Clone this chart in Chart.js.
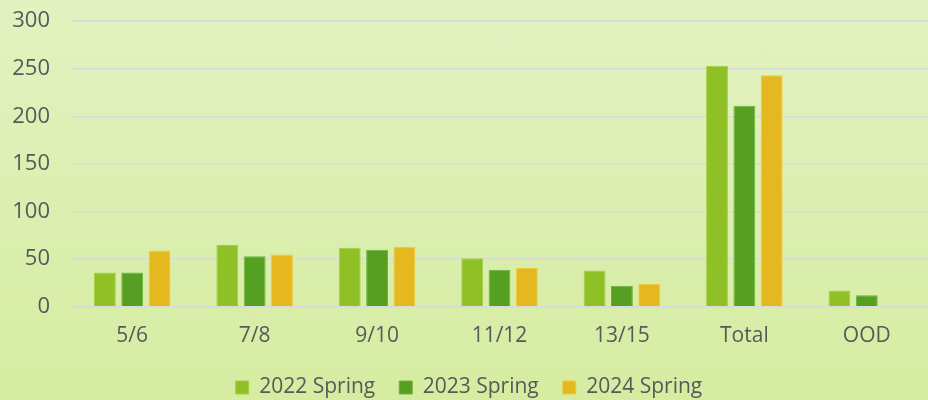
<!DOCTYPE html>
<html>
<head>
<meta charset="utf-8">
<script src="https://cdn.jsdelivr.net/npm/chart.js@4/dist/chart.umd.min.js"></script>
<style>
  html, body { margin: 0; padding: 0; }
  body { width: 928px; height: 400px; background: linear-gradient(to bottom, #e2f2c0 0%, #d6eca1 100%); }
  #wrap { width: 928px; height: 400px; position: relative; }
</style>
</head>
<body>
<div id="wrap"><canvas id="c" width="928" height="400"></canvas></div>
<script>
const categories = ["5/6", "7/8", "9/10", "11/12", "13/15", "Total", "OOD"];
const seriesNames = ["2022 Spring", "2023 Spring", "2024 Spring"];
const spring2022 = [36, 65, 62, 51, 38, 253, 17];
const spring2023 = [36, 53, 60, 39, 22, 211, 12];
const spring2024 = [59, 55, 63, 41, 24, 243, null];
const yTicks = [0, 50, 100, 150, 200, 250, 300];

const colors = ["#8fc025", "#55a022", "#e6b820"];
const borders = ["#a3cf45", "#6db43c", "#efc83f"];
const FONT = "'Open Sans', sans-serif";

new Chart(document.getElementById('c'), {
  type: 'bar',
  data: {
    labels: categories,
    datasets: [spring2022, spring2023, spring2024].map((d, i) => ({
      label: seriesNames[i],
      data: d,
      backgroundColor: colors[i],
      borderColor: borders[i],
      borderWidth: 1,
      barPercentage: 0.8,
      categoryPercentage: 0.67
    }))
  },
  options: {
    responsive: false,
    animation: false,
    layout: { padding: { left: 10, right: 0, top: 21, bottom: -8 } },
    scales: {
      x: {
        grid: { display: false },
        border: { display: false },
        ticks: { color: '#595959', font: { family: FONT, size: 21 }, padding: 9 },
        afterFit: (axis) => { axis.height -= 5; }
      },
      y: {
        min: 0, max: 300,
        afterBuildTicks: (axis) => { axis.ticks = yTicks.map(v => ({ value: v })); },
        grid: { color: '#d9d9d9', lineWidth: 1.5, drawTicks: false },
        border: { display: false },
        ticks: { color: '#595959', font: { family: FONT, size: 22 }, padding: 21 },
        afterFit: (axis) => { axis.width = 61; axis.paddingTop = 0; axis.paddingBottom = 0; }
      }
    },
    plugins: {
      legend: {
        position: 'bottom',
        labels: {
          color: '#595959',
          font: { family: FONT, size: 21 },
          boxWidth: 13, boxHeight: 13,
          padding: 24
        }
      },
      tooltip: { enabled: false }
    }
  }
});
</script>
</body>
</html>
